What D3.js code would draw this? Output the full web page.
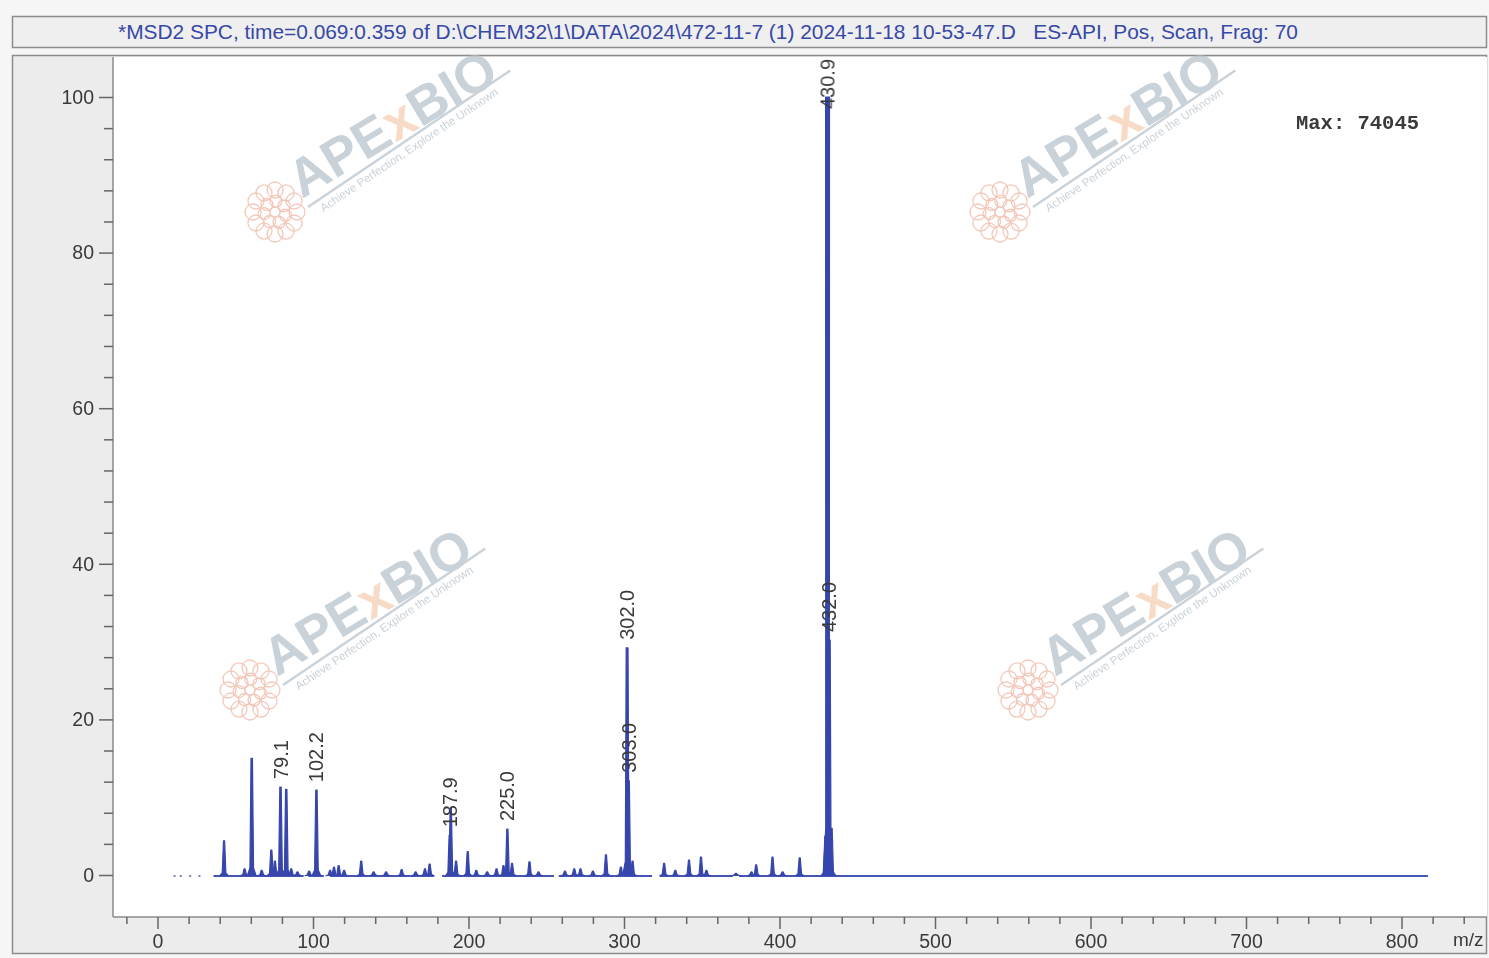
<!DOCTYPE html>
<html><head><meta charset="utf-8">
<script src="https://cdn.jsdelivr.net/npm/d3@7"></script>
<style>
html,body{margin:0;padding:0;background:#fff;}
svg{display:block;}
</style></head>
<body>
<svg id="c" width="1489" height="958"></svg>
<script>
// ---------- data ----------
const titleText = "*MSD2 SPC, time=0.069:0.359 of D:\\CHEM32\\1\\DATA\\2024\\472-11-7 (1) 2024-11-18 10-53-47.D   ES-API, Pos, Scan, Frag: 70";
const maxText = "Max: 74045";
const xMajorTicks = [0, 100, 200, 300, 400, 500, 600, 700, 800];
const xMinorTicks = [-20, 20, 40, 60, 80, 120, 140, 160, 180, 220, 240, 260, 280, 320, 340, 360, 380, 420, 440, 460, 480, 520, 540, 560, 580, 620, 640, 660, 680, 720, 740, 760, 780, 820, 840];
const yMajorTicks = [0, 20, 40, 60, 80, 100];
const yMinorTicks = [4, 8, 12, 16, 24, 28, 32, 36, 44, 48, 52, 56, 64, 68, 72, 76, 84, 88, 92, 96];
const xUnit = "m/z";

// peaks: m/z and relative abundance (%)
const peakMz  = [42.8, 56, 60.6, 67, 73.2, 75.5, 79.1, 82.8, 86, 90, 97.5, 102.2, 111, 113.5, 116.5, 120, 131, 139, 147, 157, 166, 172, 175,
                 187.9, 188.6, 192, 199.5, 205, 212, 218, 222.5, 225.0, 228, 239.2, 245, 262, 268, 272, 280, 288.4, 298, 302.0, 303.0, 305.5,
                 325.8, 333, 341.8, 349.5, 353, 372, 382, 385, 395.5, 402, 413, 429.5, 430.9, 432.0, 433.5];
const peakInt = [4.4, 0.8, 15.0, 0.6, 3.2, 1.8, 11.3, 11.0, 0.8, 0.4, 0.5, 10.9, 0.6, 1.0, 1.2, 0.6, 1.8, 0.4, 0.4, 0.7, 0.4, 0.8, 1.4,
                 5.1, 8.6, 1.8, 3.0, 0.6, 0.4, 0.8, 1.2, 5.9, 1.5, 1.7, 0.4, 0.5, 0.8, 0.8, 0.5, 2.6, 1.0, 29.2, 12.1, 1.8,
                 1.5, 0.6, 1.9, 2.3, 0.6, 0.2, 0.4, 1.3, 2.3, 0.4, 2.2, 5.0, 100, 30.2, 6.0];
const labelMz = [79.1, 102.2, 187.9, 225.0, 302.0, 303.0, 430.9, 432.0];
const labelText = ["79.1", "102.2", "187.9", "225.0", "302.0", "303.0", "430.9", "432.0"];
// baseline segments (m/z ranges where the trace runs along ~0)
const baseStart = [36, 97, 111, 183, 258, 323, 374];
const baseEnd   = [94, 107, 178, 255, 318, 370, 817];
const noiseDots = [11, 15, 21, 27];

// watermark anchors (decorative)
const wmX = [302, 1027, 277, 1055];
const wmY = [199, 199, 677, 677];

// ---------- drawing ----------
const svg = d3.select("#c");
const W = 1489, H = 958;
const plotL = 113, plotR = 1487, plotT = 57, plotB = 917;

const x = d3.scaleLinear().domain([0, 800]).range([157.5, 1401.5]);
const y = d3.scaleLinear().domain([0, 100]).range([875, 97]);

// outer background
svg.append("rect").attr("width", W).attr("height", H).attr("fill", "#f6f6f6");
// title box
svg.append("rect").attr("x", 12.5).attr("y", 16.5).attr("width", 1474).attr("height", 31)
  .attr("fill", "#efefef").attr("stroke", "#8c8c8c").attr("stroke-width", 1.5);
svg.append("text").attr("x", 118).attr("y", 39).text(titleText)
  .attr("font-family", "Liberation Sans, Arial, sans-serif").attr("font-size", 20.9)
  .attr("fill", "#3648a8").style("white-space", "pre");
// main frame
svg.append("rect").attr("x", 12.5).attr("y", 55.5).attr("width", 1474).attr("height", 898)
  .attr("fill", "#ececec").attr("stroke", "#8c8c8c").attr("stroke-width", 1.5);
// plot area
svg.append("rect").attr("x", plotL).attr("y", plotT).attr("width", plotR - plotL).attr("height", plotB - plotT)
  .attr("fill", "#ffffff");

// watermarks
function watermark(ax, ay) {
  const g = svg.append("g").attr("opacity", 0.72);
  // flower logo
  const fl = g.append("g").attr("transform", `translate(${ax - 27},${ay + 13})`)
    .attr("fill", "none").attr("stroke", "#eeb3a0").attr("stroke-width", 1.3);
  for (let i = 0; i < 12; i++) {
    const a = i / 12 * 2 * Math.PI;
    fl.append("circle").attr("cx", 22 * Math.cos(a)).attr("cy", 22 * Math.sin(a)).attr("r", 8);
  }
  for (let i = 0; i < 7; i++) {
    const a = i / 7 * 2 * Math.PI + 0.3;
    fl.append("circle").attr("cx", 11 * Math.cos(a)).attr("cy", 11 * Math.sin(a)).attr("r", 6);
  }
  fl.append("circle").attr("r", 5);
  const t = g.append("g").attr("transform", `translate(${ax},${ay}) rotate(-31)`);
  const tx = t.append("text").attr("x", 0).attr("y", 0)
    .attr("font-family", "Liberation Sans, Arial, sans-serif").attr("font-weight", "bold")
    .attr("font-size", 53);
  tx.append("tspan").text("APE").attr("fill", "#b4c1ca");
  tx.append("tspan").text("x").attr("fill", "#f4cdb0");
  tx.append("tspan").text("BIO").attr("fill", "#b4c1ca");
  const t2 = g.append("g").attr("transform", `translate(${ax + 6},${ay + 8}) rotate(-34)`);
  t2.append("line").attr("x1", 0).attr("y1", 0).attr("x2", 244).attr("y2", 0)
    .attr("stroke", "#b4c1ca").attr("stroke-width", 2.5);
  t2.append("text").attr("x", 10).attr("y", 13).text("Achieve Perfection, Explore the Unknown")
    .attr("font-family", "Liberation Sans, Arial, sans-serif").attr("font-size", 11.5)
    .attr("fill", "#b4c1ca");
}
wmX.forEach((wx, i) => watermark(wx, wmY[i]));

// axes lines
svg.append("line").attr("x1", plotL).attr("x2", plotL).attr("y1", plotT).attr("y2", plotB)
  .attr("stroke", "#8a8a8a").attr("stroke-width", 1.5);
svg.append("line").attr("x1", plotL).attr("x2", plotR).attr("y1", plotB).attr("y2", plotB)
  .attr("stroke", "#8a8a8a").attr("stroke-width", 1.5);

const axisFont = "Liberation Sans, Arial, sans-serif";
// y axis
const yMaj = svg.append("g").attr("transform", `translate(${plotL},0)`)
  .call(d3.axisLeft(y).tickValues(yMajorTicks).tickSize(14).tickPadding(5).tickFormat(d3.format("d")));
const yMin = svg.append("g").attr("transform", `translate(${plotL},0)`)
  .call(d3.axisLeft(y).tickValues(yMinorTicks).tickSize(9).tickFormat(""));
// x axis
const xMaj = svg.append("g").attr("transform", `translate(0,${plotB})`)
  .call(d3.axisBottom(x).tickValues(xMajorTicks).tickSize(12).tickPadding(5).tickFormat(d3.format("d")));
const xMin = svg.append("g").attr("transform", `translate(0,${plotB})`)
  .call(d3.axisBottom(x).tickValues(xMinorTicks).tickSize(7).tickFormat(""));
[yMaj, yMin, xMaj, xMin].forEach(g => {
  g.select(".domain").remove();
  g.selectAll(".tick line").attr("stroke", "#666").attr("stroke-width", 1.5);
  g.selectAll(".tick text").attr("font-family", axisFont).attr("font-size", 19.5).attr("fill", "#3a3a3a");
});
svg.append("text").attr("x", 1453).attr("y", 946).text(xUnit)
  .attr("font-family", axisFont).attr("font-size", 19).attr("fill", "#3a3a3a");

// spectrum
const blue = "#3646ad";
const spec = svg.append("g");
// baseline segments
baseStart.forEach((s, i) => {
  spec.append("line").attr("x1", x(s)).attr("x2", x(baseEnd[i])).attr("y1", y(0) + 1).attr("y2", y(0) + 1)
    .attr("stroke", "#4656b4").attr("stroke-width", 2);
});
noiseDots.forEach(m => {
  spec.append("line").attr("x1", x(m) - 1).attr("x2", x(m) + 1).attr("y1", y(0) + 1).attr("y2", y(0) + 1)
    .attr("stroke", "#7a84c0").attr("stroke-width", 2);
});
// peaks
peakMz.forEach((m, i) => {
  const h = peakInt[i];
  const px = x(m), y0 = y(0) + 1, yt = y(h), yf = y(h * 0.06);
  const ht = 0.5 + h / 70;
  const pts = [[px - 4.5, y0], [px - 1.8, yf], [px - ht, yt], [px + ht, yt], [px + 1.8, yf], [px + 4.5, y0]];
  spec.append("path").attr("d", d3.line()(pts))
    .attr("fill", blue).attr("stroke", blue).attr("stroke-width", 1.2).attr("stroke-linejoin", "round");
});

// peak labels
labelMz.forEach((m, i) => {
  const idx = peakMz.indexOf(m);
  const h = peakInt[idx];
  let ay = y(h) - 8;
  const len = labelText[i].length * 10.2;
  if (ay - len < plotT + 1) ay = plotT + 1 + len;
  svg.append("text").attr("transform", `translate(${x(m)},${ay}) rotate(-90)`)
    .attr("text-anchor", "start").attr("dominant-baseline", "central")
    .attr("font-family", axisFont).attr("font-size", 20).attr("fill", "#3a3a3a")
    .text(labelText[i]);
});

// max label
svg.append("text").attr("x", 1296).attr("y", 129).text(maxText)
  .attr("font-family", "Liberation Mono, Courier New, monospace").attr("font-weight", "bold")
  .attr("font-size", 20.5).attr("fill", "#3a3a3a").style("white-space", "pre");
</script>
</body></html>
